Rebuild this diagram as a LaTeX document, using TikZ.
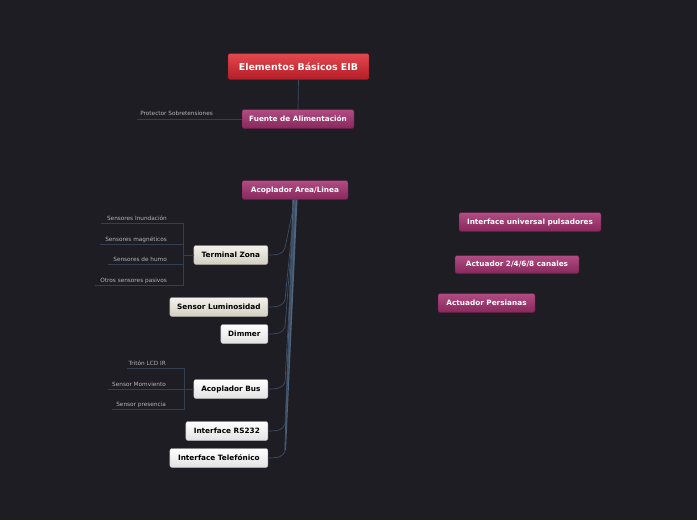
\documentclass[tikz,border=0pt]{standalone}
\usepackage{fontspec}
\setmainfont{DejaVu Sans}
\usetikzlibrary{calc}
\definecolor{bg}{HTML}{1E1D24}
\definecolor{trunk}{HTML}{4E6580}
\definecolor{bough}{HTML}{3D4D62}
\definecolor{twig}{HTML}{34404F}
\definecolor{leaf}{HTML}{B4B4B4}
\definecolor{redtop}{HTML}{E5484F}
\definecolor{redbot}{HTML}{B31D27}
\definecolor{plumtop}{HTML}{B24C83}
\definecolor{plumbot}{HTML}{87285C}
\definecolor{sandtop}{HTML}{F3F1EA}
\definecolor{sandbot}{HTML}{D3CFC2}
\definecolor{chalktop}{HTML}{FFFFFF}
\definecolor{chalkbot}{HTML}{E2E2E2}

\tikzset{
  topic/.style={rounded corners=3pt, inner sep=0pt, minimum height=0.95cm,
    font=\fontsize{10.4}{12}\selectfont\bfseries},
  central/.style={topic, top color=redtop, bottom color=redbot, draw=redbot!80!black,
    text=white, minimum height=1.3cm, font=\fontsize{13.4}{15}\selectfont\bfseries},
  plum/.style={topic, top color=plumtop, bottom color=plumbot, draw=plumbot!70!black, text=white},
  sand/.style={topic, top color=sandtop, bottom color=sandbot, draw=sandbot!80!black, text=black},
  chalk/.style={topic, top color=chalktop, bottom color=chalkbot, draw=chalkbot!80!black, text=black},
  leafnote/.style={anchor=base east, inner sep=0pt, text=leaf, font=\fontsize{8.2}{9}\selectfont},
  twigline/.style={draw=twig, line width=0.9pt},
  branch/.style={draw=bough, line width=1pt},
}

\begin{document}
\begin{tikzpicture}[x=0.05cm, y=-0.05cm]
  \fill[bg] (0,0) rectangle (697,520);
  \useasboundingbox (0,0) rectangle (697,520);

  % central topic and power supply
  \node[central, minimum width=7.05cm] (root) at (298.5,66.5) {Elementos Básicos EIB};
  \node[plum, minimum width=5.6cm] (fuente) at (298,119) {Fuente de Alimentación};
  \draw[branch] (root.south) -- (fuente.north);
  \node[leafnote] (prot) at (213,115.5) {Protector Sobretensiones};
  \coordinate (protend) at (137,119);
  \draw[twigline] (fuente.west) -- (protend);

  % floating topics
  \node[plum, minimum width=5.3cm] (acop) at (295,190) {Acoplador Area/Linea};
  \node[plum, minimum width=7.1cm] (iup) at (530,222) {Interface universal pulsadores};
  \node[plum, minimum width=6.2cm, minimum height=0.9cm] (actu) at (517,264.5) {Actuador 2/4/6/8 canales};
  \node[plum, minimum width=4.85cm] (pers) at (486.5,303) {Actuador Persianas};

  % children of Acoplador Area/Linea
  \node[sand, minimum width=3.7cm, anchor=east] (tz) at (268,255) {Terminal Zona};
  \node[sand, minimum width=4.9cm, anchor=east] (lum) at (268,307) {Sensor Luminosidad};
  \node[chalk, minimum width=2.35cm, anchor=east] (dim) at (268,334) {Dimmer};
  \node[chalk, minimum width=3.7cm, anchor=east] (bus) at (268,389) {Acoplador Bus};
  \node[chalk, minimum width=4.1cm, anchor=east] (rs) at (268,431) {Interface RS232};
  \node[chalk, minimum width=4.9cm, anchor=east] (tel) at (268,458) {Interface Telefónico};

  \fill[trunk] ($(acop.south)+(-2.5,0)$) -- ($(acop.south)+(2.5,0)$) -- (286,450) -- (284.5,450) -- cycle;
  \foreach \kid in {tz,lum,dim,bus,rs,tel}
    \draw[branch] (acop.south) -- ($(\kid.east)+(17,-7)$)
      .. controls ($(\kid.east)+(15,-1)$) and ($(\kid.east)+(10,0)$) .. (\kid.east);

  % leaves of Terminal Zona
  \coordinate (tzhub) at (183,255);
  \draw[twigline] (tz.west) -- (tzhub);
  \foreach \txt/\xa/\ya [count=\i] in {Sensores Inundación/101/223, Sensores magnéticos/100/244,
      Sensores de humo/108/264, Otros sensores pasivos/95/285} {
    \node[leafnote] (tzl\i) at (167,\ya-3) {\txt};
    \coordinate (tzs\i) at (\xa,\ya);
    \draw[twigline] (tzs\i) -- (tzs\i -| tzhub) -- (tzhub);
  }

  % leaves of Acoplador Bus
  \coordinate (bushub) at (184,389);
  \draw[twigline] (bus.west) -- (bushub);
  \foreach \txt/\xa/\ya [count=\i] in {Tritón LCD IR/127/368, Sensor Momviento/108/389,
      Sensor presencia/112/409} {
    \node[leafnote] (busl\i) at (166,\ya-3) {\txt};
    \coordinate (buss\i) at (\xa,\ya);
    \draw[twigline] (buss\i) -- (buss\i -| bushub) -- (bushub);
  }
\end{tikzpicture}
\end{document}
